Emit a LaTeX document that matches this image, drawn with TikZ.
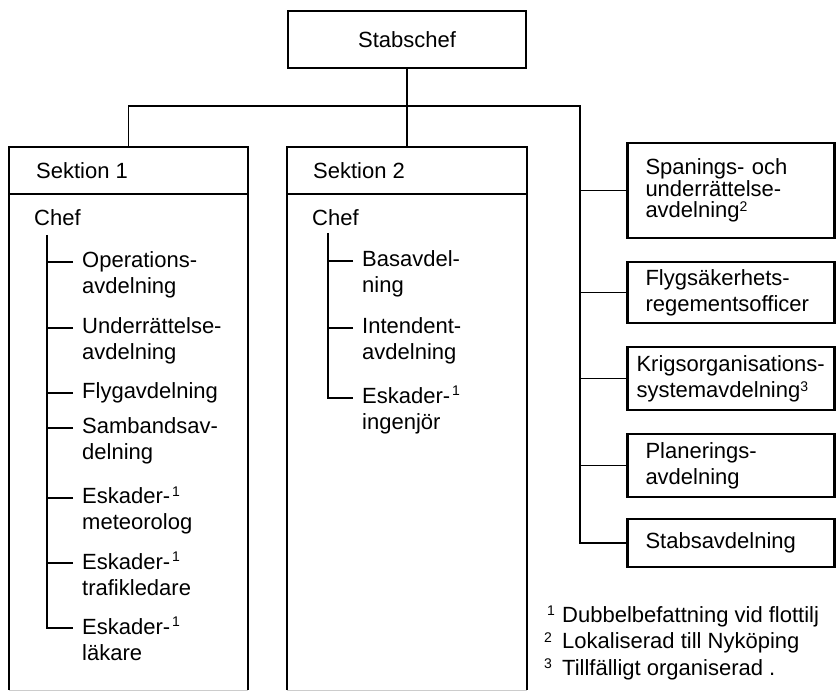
\documentclass[tikz,border=0pt]{standalone}
\usepackage{fontspec}
\setmainfont{Liberation Sans}
\usetikzlibrary{calc}

% raised footnote marks
\newcommand{\fnmark}[1]{\kern2pt\raisebox{8pt}{\fontsize{14}{14}\selectfont #1}}
\newcommand{\itemlines}[1]{\begin{tabular}[t]{@{}l@{}}#1\end{tabular}}

\tikzset{
  frame/.style={line width=2.5pt},
  box/.style={draw, line width=2.5pt, inner sep=0pt, font=\fontsize{22}{26}\selectfont},
  link/.style={line width=1.6pt},
  txt/.style={inner sep=0pt, anchor=base west, font=\fontsize{22}{26}\selectfont},
  secbox/.style={inner sep=0pt, minimum height=543pt},
  rbox/.style={box, align=left, text width=171pt, inner xsep=18pt, inner ysep=0pt},
}

\begin{document}
\begin{tikzpicture}[x=1pt, y=-1pt]
\path[use as bounding box] (0,0) rectangle (836,692);
\clip (0,0) rectangle (836,692);

% top box
\node[box, minimum width=238pt, minimum height=57pt] (stab) at (407,39.5) {Stabschef};

% sections
\node[secbox, minimum width=239pt] (sek1) at (128.5,418.5) {};
\node[secbox, minimum width=240pt] (sek2) at (407,418.5) {};
\foreach \s in {sek1,sek2}{
  \draw[frame] (\s.south west) |- (\s.north east) -- (\s.south east);
  \draw[frame] (\s.west |- 0,194) -- (\s.east |- 0,194);
  \draw[gray!40, line width=1pt] (\s.south west) -- (\s.south east);
}
\node[txt] (h1) at (36,179) {Sektion 1};
\node[txt] (h2) at (313,179) {Sektion 2};
\node[txt] (c1) at (34,226) {Chef};
\node[txt] (c2) at (312,226) {Chef};

% section 1 items
\node[txt] (op) at (82,268) {\itemlines{Operations-\\avdelning}};
\node[txt] (un) at (82,334) {\itemlines{Underrättelse-\\avdelning}};
\node[txt] (fl) at (82,399) {Flygavdelning};
\node[txt] (sa) at (82,434) {\itemlines{Sambandsav-\\delning}};
\node[txt] (me) at (82,504) {\itemlines{Eskader-\fnmark{1}\\meteorolog}};
\node[txt] (tr) at (82,569) {\itemlines{Eskader-\fnmark{1}\\trafikledare}};
\node[txt] (la) at (82,634) {\itemlines{Eskader-\fnmark{1}\\läkare}};

\coordinate (t1) at (47,235);
\draw[link] (t1) |- ([shift={(-9pt,6pt)}]la.base west);
\foreach \n in {op,un,fl,sa,me,tr}
  \draw[link] ([shift={(-9pt,6pt)}]\n.base west) -- ++(-26pt,0pt);

% section 2 items
\node[txt] (ba) at (362,267) {\itemlines{Basavdel-\\ning}};
\node[txt] (in) at (362,334) {\itemlines{Intendent-\\avdelning}};
\node[txt] (es) at (362,404) {\itemlines{Eskader-\fnmark{1}\\ingenjör}};

\coordinate (t2) at (328,233);
\draw[link] (t2) |- ([shift={(-9pt,6pt)}]es.base west);
\foreach \n in {ba,in}
  \draw[link] ([shift={(-9pt,6pt)}]\n.base west) -- ++(-25pt,0pt);

% staff units on the right
\node[rbox, minimum height=95pt, font=\fontsize{22}{21.5}\selectfont] (span) at (731,190.5)
  {Spanings- och\\underrättelse-\\avdelning\raisebox{6pt}{\fontsize{14}{14}\selectfont 2}};
\node[rbox, minimum height=61pt] (flyg) at (731,292.5)
  {Flygsäkerhets-\\regementsofficer};
\node[rbox, minimum height=63pt, text width=189pt, inner xsep=9pt] (krig) at (731,378.5)
  {Krigsorganisations-\\systemavdelning\raisebox{6pt}{\fontsize{14}{14}\selectfont 3}};
\node[rbox, minimum height=63pt] (plan) at (731,465.5)
  {Planerings-\\avdelning};
\node[rbox, minimum height=48pt] (stabsavd) at (731,543)
  {Stabsavdelning};

% connectors
\coordinate (busR) at (580,106);
\draw[link] (sek1.north) |- (busR) |- (stabsavd.west);
\draw[link] (stab.south) -- (sek2.north);
\foreach \b in {span,flyg,krig,plan}
  \draw[link] (\b.west) -- (\b.west -| busR);

% footnotes
\node[txt, font=\fontsize{22}{26.5}\selectfont] (notes) at (544,622) {\begin{tabular}[t]{@{}l@{}}
  \makebox[18pt][l]{\hspace{3pt}\raisebox{6pt}{\fontsize{14}{14}\selectfont 1}}Dubbelbefattning vid flottilj\\
  \makebox[18pt][l]{\raisebox{6pt}{\fontsize{14}{14}\selectfont 2}}Lokaliserad till Nyköping\\
  \makebox[18pt][l]{\raisebox{6pt}{\fontsize{14}{14}\selectfont 3}}Tillfälligt organiserad .
\end{tabular}};

\end{tikzpicture}
\end{document}
